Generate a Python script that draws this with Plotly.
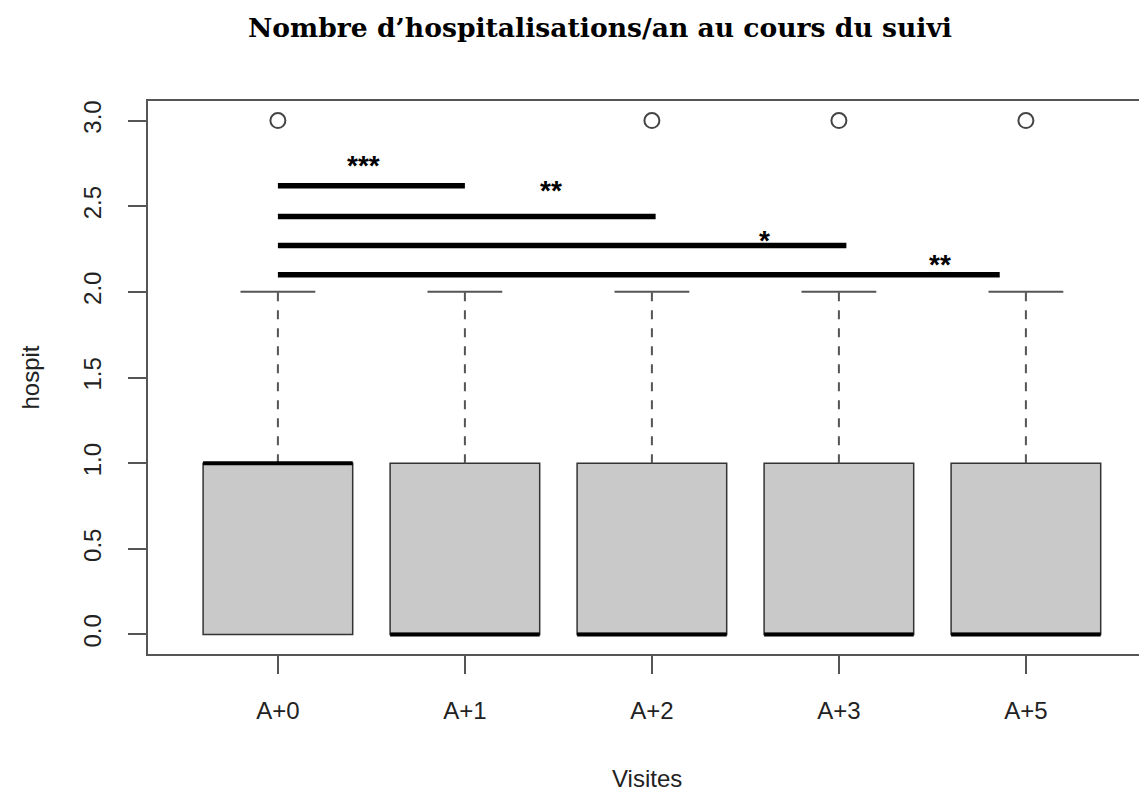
import plotly.graph_objects as go

# --- data ---
visites = ["A+0", "A+1", "A+2", "A+3", "A+5"]
positions = [1, 2, 3, 4, 5]
q1 = [0, 0, 0, 0, 0]
medianes = [1, 0, 0, 0, 0]
q3 = [1, 1, 1, 1, 1]
whisk_haut = [2, 2, 2, 2, 2]
outliers_x = [1, 3, 4, 5]
outliers_y = [3, 3, 3, 3]

# comparaisons (A+0 vs ...): début, fin, hauteur, étiquette
comp_debut = [1.0, 1.0, 1.0, 1.0]
comp_fin = [2.0, 3.02, 4.04, 4.86]
comp_y = [2.62, 2.44, 2.27, 2.10]
comp_txt = ["***", "**", "*", "**"]
comp_txt_x = [1.46, 2.46, 3.60, 4.54]
comp_txt_y = [2.736, 2.589, 2.302, 2.162]

GRIS = "#555555"
POLICE = "Liberation Sans"
fig = go.Figure()

# boîtes (moustaches dessinées à part, en pointillés)
for i in range(len(visites)):
    fig.add_trace(go.Box(
        x=[positions[i]], q1=[q1[i]], median=[medianes[i]], q3=[q3[i]],
        lowerfence=[q1[i]], upperfence=[q3[i]],
        width=0.8, whiskerwidth=0,
        fillcolor="#C9C9C9", line=dict(color="#333333", width=1.5),
        boxpoints=False, hoverinfo="skip", showlegend=False,
    ))
    # moustache
    fig.add_trace(go.Scatter(
        x=[positions[i], positions[i]], y=[q3[i], whisk_haut[i]],
        mode="lines", line=dict(color=GRIS, width=2, dash="dash"),
        showlegend=False, hoverinfo="skip"))
    # capuchon
    fig.add_trace(go.Scatter(
        x=[positions[i] - 0.2, positions[i] + 0.2], y=[whisk_haut[i]] * 2,
        mode="lines", line=dict(color=GRIS, width=2),
        showlegend=False, hoverinfo="skip"))
    # médiane épaisse
    fig.add_trace(go.Scatter(
        x=[positions[i] - 0.4, positions[i] + 0.4], y=[medianes[i]] * 2,
        mode="lines", line=dict(color="black", width=4),
        showlegend=False, hoverinfo="skip"))

# valeurs extrêmes
fig.add_trace(go.Scatter(
    x=outliers_x, y=outliers_y, mode="markers",
    marker=dict(symbol="circle-open", size=15, color="#444444", line=dict(width=2)),
    showlegend=False, hoverinfo="skip"))

# barres de significativité
for a, b, y, t, tx, ty in zip(comp_debut, comp_fin, comp_y, comp_txt, comp_txt_x, comp_txt_y):
    fig.add_trace(go.Scatter(
        x=[a, b], y=[y, y], mode="lines",
        line=dict(color="black", width=5.5),
        showlegend=False, hoverinfo="skip"))
    fig.add_annotation(x=tx, y=ty, text="<b>" + t + "</b>", showarrow=False,
                       font=dict(family=POLICE, size=28, color="black"))

# cadre (coupé à droite comme l'original)
fig.add_shape(type="rect", xref="paper", yref="paper", x0=0, x1=1.05, y0=0, y1=1,
              line=dict(color=GRIS, width=2), layer="above")

fig.add_annotation(text="hospit", xref="paper", yref="paper", x=-0.117, y=0.5,
                   xanchor="center", yanchor="middle", showarrow=False, textangle=-90,
                   font=dict(family=POLICE, size=24, color="#222222"))
fig.add_annotation(text="Visites", xref="paper", yref="paper", x=0.5, y=0,
                   yshift=-123, xanchor="center", yanchor="middle", showarrow=False,
                   font=dict(family=POLICE, size=24, color="#222222"))

# la page ajoute une marge de 8 px autour du graphique
fig.update_layout(
    title=dict(text="<b>Nombre d’hospitalisations/an au cours du suivi</b>",
               x=592 / 1139, xanchor="center", y=1 - 20 / 788, yanchor="middle",
               font=dict(family="DejaVu Serif", size=26.6, color="black")),
    width=1139, height=788,
    margin=dict(l=139, r=0, t=92, b=141),
    plot_bgcolor="white", paper_bgcolor="white",
    xaxis=dict(range=[0.3, 0.3 + 1000 / 187], tickvals=positions, ticktext=visites,
               ticks="outside", ticklen=18, tickwidth=2, tickcolor=GRIS,
               ticklabelstandoff=16,
               showgrid=False, zeroline=False, showline=False,
               tickfont=dict(family=POLICE, size=24, color="#222222")),
    yaxis=dict(range=[-0.12, 3.12], tickvals=[0, 0.5, 1, 1.5, 2, 2.5, 3],
               ticktext=["0.0", "0.5", "1.0", "1.5", "2.0", "2.5", "3.0"],
               tickangle=-90, ticks="outside", ticklen=18, tickwidth=2, tickcolor=GRIS,
               ticklabelstandoff=17,
               showgrid=False, zeroline=False, showline=False,
               tickfont=dict(family=POLICE, size=24, color="#222222")),
)

fig.write_html("out.html")
